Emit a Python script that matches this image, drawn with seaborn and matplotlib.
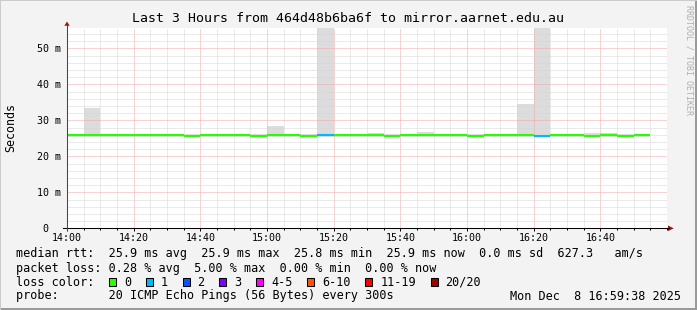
import numpy as np
import pandas as pd
import matplotlib
matplotlib.use("Agg")
import matplotlib.pyplot as plt
import seaborn as sns
from matplotlib.lines import Line2D
from matplotlib.patches import Rectangle, Polygon

# ---------------- data ----------------
bin_times = ["14:00", "14:05", "14:10", "14:15", "14:20", "14:25", "14:30", "14:35",
             "14:40", "14:45", "14:50", "14:55",
             "15:00", "15:05", "15:10", "15:15",
             "15:20", "15:25", "15:30", "15:35",
             "15:40", "15:45", "15:50", "15:55",
             "16:00", "16:05", "16:10", "16:15",
             "16:20", "16:25", "16:30", "16:35",
             "16:40", "16:45", "16:50"]
median_ms = [25.9, 25.9, 25.9, 25.9, 25.9, 25.9, 25.9, 25.7,
             25.9, 25.9, 25.9, 25.7,
             25.9, 25.9, 25.7, 25.9,
             25.9, 25.9, 25.9, 25.7,
             25.9, 25.9, 25.9, 25.9,
             25.7, 25.9, 25.9, 25.9,
             25.7, 25.9, 25.9, 25.7,
             25.9, 25.7, 25.9]
lost_pings = [0, 0, 0, 0, 0, 0, 0, 0,
              0, 0, 0, 0,
              0, 0, 0, 1,
              0, 0, 0, 0,
              0, 0, 0, 0,
              0, 0, 0, 0,
              1, 0, 0, 0,
              0, 0, 0]
smoke_min_ms = [25.4] * 35
smoke_max_ms = [26.1, 33.5, 26.1, 26.1, 26.1, 26.1, 26.1, 26.1,
                26.1, 26.1, 26.1, 26.1,
                28.4, 26.1, 26.1, 60.0,
                26.1, 26.1, 26.4, 26.1,
                26.1, 26.8, 26.1, 26.1,
                26.1, 26.1, 26.1, 34.5,
                60.0, 26.1, 26.1, 26.5,
                26.4, 26.3, 26.1]

x_tick_labels = ["14:00", "14:20", "14:40", "15:00", "15:20", "15:40", "16:00", "16:20", "16:40"]
y_tick_values = [0, 10, 20, 30, 40, 50]
y_tick_labels = ["0  ", "10 m", "20 m", "30 m", "40 m", "50 m"]

loss_labels = ["0", "1", "2", "3", "4-5", "6-10", "11-19", "20/20"]
loss_colors = ["#26ff00", "#00b8ff", "#0059ff", "#7e00ff", "#ff00ff", "#ff5500", "#ff0000", "#a10000"]

title = "Last 3 Hours from 464d48b6ba6f to mirror.aarnet.edu.au"
legend_rtt = "median rtt:  25.9 ms avg  25.9 ms max  25.8 ms min  25.9 ms now  0.0 ms sd  627.3   am/s"
legend_loss = "packet loss: 0.28 % avg  5.00 % max  0.00 % min  0.00 % now"
legend_probe = "probe:       20 ICMP Echo Pings (56 Bytes) every 300s"
stamp = "Mon Dec  8 16:59:38 2025"
watermark = "RRDTOOL / TOBI OETIKER"

# ---------------- helpers ----------------
W, H = 697, 310
MONO = "DejaVu Sans Mono"


def fx(x):
    return x / W


def fy(y):
    return 1 - y / H


def minutes(s):
    h, m = s.split(":")
    return (int(h) - 14) * 60 + int(m)


starts = np.array([minutes(t) for t in bin_times], dtype=float)

fig = plt.figure(figsize=(W / 100, H / 100), dpi=100, facecolor="#f3f3f3")

# frame (3D shade)
fig.add_artist(Rectangle((0, 0), 1, fy(H - 2), transform=fig.transFigure, color="#9a9a9a", lw=0))
fig.add_artist(Rectangle((fx(W - 2), 0), fx(2), 1, transform=fig.transFigure, color="#9a9a9a", lw=0))
fig.add_artist(Rectangle((0, fy(1)), 1, fy(0) - fy(1), transform=fig.transFigure, color="#cbcbcb", lw=0))
fig.add_artist(Rectangle((0, 0), fx(1), 1, transform=fig.transFigure, color="#cbcbcb", lw=0))

ax = fig.add_axes([fx(67), fy(228.3), fx(600), (228.3 - 28) / H])
ax.set_facecolor("white")
for s in ax.spines.values():
    s.set_visible(False)

# smoke
ax.bar(starts, np.array(smoke_max_ms) - np.array(smoke_min_ms), bottom=smoke_min_ms,
       width=5, align="edge", color="#dcdcdc", linewidth=0, zorder=1)

# median line coloured by loss
loss_index = [0, 1, 2, 3, 4, 4, 5, 5, 5, 5, 5, 6, 6, 6, 6, 6, 6, 6, 6, 6, 7]
rows = []
for i, (t0, m, l) in enumerate(zip(starts, median_ms, lost_pings)):
    key = loss_labels[loss_index[l]]
    rows.append((t0, m, key, i))
    rows.append((t0 + 5, m, key, i))
long = pd.DataFrame(rows, columns=["t", "ms", "loss", "bin"])
palette = dict(zip(loss_labels, loss_colors))
sns.lineplot(data=long, x="t", y="ms", hue="loss", units="bin", estimator=None,
             palette={k: palette[k] for k in long["loss"].unique()}, legend=False,
             linewidth=1.5, solid_capstyle="butt", ax=ax, zorder=4)

ax.set_xlim(0, 180)
ax.set_ylim(0, 55.64)

# grid
ax.set_xticks([minutes(t) for t in x_tick_labels])
ax.set_xticks(np.arange(0, 181, 5), minor=True)
ax.set_yticks(y_tick_values)
ax.set_yticks(np.arange(0, 56, 2), minor=True)
ax.set_axisbelow(False)
ax.grid(which="minor", color="#d6d6d6", linestyle=(0, (1, 1)), linewidth=0.72)
ax.grid(which="major", color="#f2a8a8", linestyle=(0, (1, 1)), linewidth=0.72)
for gl in ax.get_xgridlines() + ax.get_ygridlines():
    gl.set_zorder(2)

ax.set_xticklabels(x_tick_labels, fontfamily=MONO, fontsize=7.2)
ax.set_yticklabels(y_tick_labels, fontfamily=MONO, fontsize=7.2)
ax.tick_params(axis="y", which="both", length=0, pad=4.4)
ax.tick_params(axis="x", which="major", length=2.5, width=0.72, pad=1.2, color="black")
ax.tick_params(axis="x", which="minor", length=1.5, width=0.72, color="black")
ax.set_xlabel("")
ax.set_ylabel("")

# axes lines and arrows
fig.add_artist(Line2D([fx(63), fx(669)], [fy(228.3), fy(228.3)], transform=fig.transFigure,
                      color="black", lw=0.75))
fig.add_artist(Line2D([fx(67), fx(67)], [fy(230), fy(25)], transform=fig.transFigure,
                      color="#7a3030", lw=0.75))
fig.add_artist(Polygon([(fx(64.3), fy(25.8)), (fx(69.7), fy(25.8)), (fx(67), fy(21.5))],
                       closed=True, transform=fig.transFigure, color="#a01818", lw=0))
fig.add_artist(Polygon([(fx(668), fy(225.5)), (fx(668), fy(231.1)), (fx(673.8), fy(228.3))],
                       closed=True, transform=fig.transFigure, color="#a01818", lw=0))

# texts
fig.text(fx(347.5), fy(19), title, fontfamily=MONO, fontsize=9.55, ha="center", va="center")
fig.text(fx(11), fy(127.5), "Seconds", fontfamily=MONO, fontsize=8.4, rotation=90,
         ha="center", va="center")
fig.text(fx(688.5), fy(5), watermark, fontfamily=MONO, fontsize=6, rotation=-90,
         ha="center", va="top", color="#b0b0b0")

LEG = 8.5
fig.text(fx(16), fy(254), legend_rtt, fontfamily=MONO, fontsize=LEG, va="center")
fig.text(fx(16), fy(268.3), legend_loss, fontfamily=MONO, fontsize=LEG, va="center")
fig.text(fx(16), fy(282.3), "loss color:", fontfamily=MONO, fontsize=LEG, va="center")
fig.text(fx(16), fy(296), legend_probe, fontfamily=MONO, fontsize=LEG, va="center")
fig.text(fx(681), fy(296), stamp, fontfamily=MONO, fontsize=LEG, va="center", ha="right")

x = 109.0
for lab, col in zip(loss_labels, loss_colors):
    fig.add_artist(Rectangle((fx(x), fy(286)), fx(7), fy(278) - fy(286),
                             transform=fig.transFigure, facecolor=col,
                             edgecolor="black", lw=0.75))
    fig.text(fx(x + 15), fy(282.3), lab, fontfamily=MONO, fontsize=LEG, va="center")
    x += 15 + len(lab) * 7.1 + 14.7

fig.savefig("out.png", dpi=100, facecolor=fig.get_facecolor())
